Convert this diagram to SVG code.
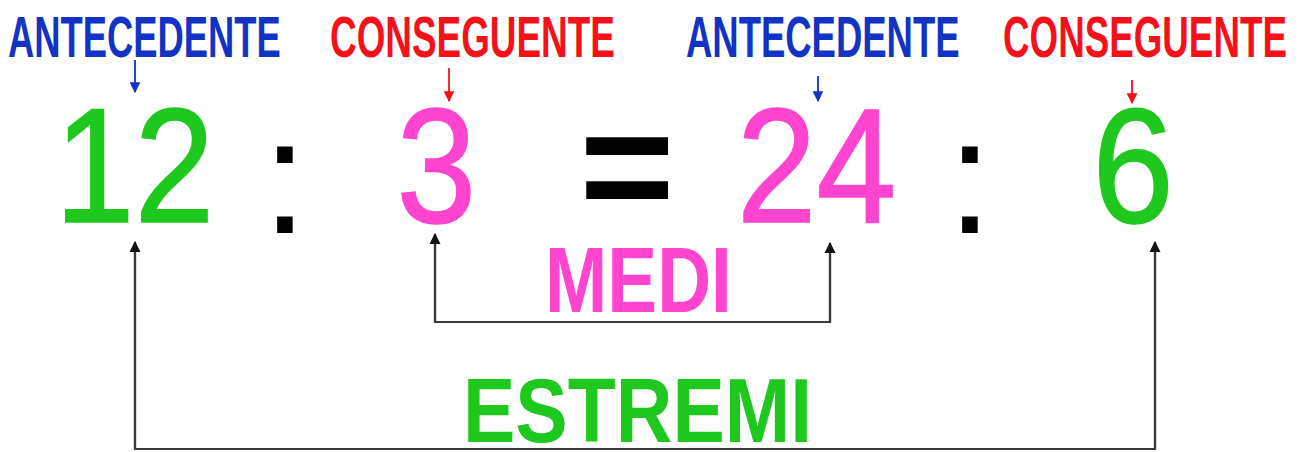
<svg xmlns="http://www.w3.org/2000/svg" width="1314" height="452" viewBox="0 0 1314 452">
<style>
.lbl{font-family:"Liberation Sans",Arial,sans-serif;font-weight:bold;font-size:58px;}
.blue{fill:#1233c4;}
.red{fill:#f5101a;}
.num{font-family:"Liberation Sans",Arial,sans-serif;font-size:163px;text-anchor:middle;}
.green{fill:#1ec81e;}
.pink{fill:#ff45cf;}
.blk{fill:#000;}
.thick.green{stroke:#1ec81e;stroke-width:1.6;}
.thick.pink{stroke:#ff45cf;stroke-width:1.6;}
.big{font-family:"Liberation Sans",Arial,sans-serif;font-weight:bold;}
.conn{fill:none;stroke:#3a3a3a;stroke-width:2.2;}
.sb{stroke:#1233c4;stroke-width:1.8;fill:none;}
.sr{stroke:#f5101a;stroke-width:1.8;fill:none;}
</style>
<defs>
<marker id="ah" viewBox="0 0 10 10" refX="9" refY="5" markerWidth="5" markerHeight="5.5" orient="auto" markerUnits="strokeWidth">
<path d="M0,0 L10,5 L0,10 z" fill="#111"/>
</marker>
<marker id="ahb" viewBox="0 0 10 10" refX="9" refY="5" markerWidth="6" markerHeight="7" orient="auto" markerUnits="strokeWidth">
<path d="M0,0 L10,5 L0,10 z" fill="#1233c4"/>
</marker>
<marker id="ahr" viewBox="0 0 10 10" refX="9" refY="5" markerWidth="6" markerHeight="7" orient="auto" markerUnits="strokeWidth">
<path d="M0,0 L10,5 L0,10 z" fill="#f5101a"/>
</marker>
</defs>
<rect width="1314" height="452" fill="#fff"/>

<g id="label-antecedente-1"><text class="lbl blue" transform="translate(8,57) scale(0.627,1)">ANTECEDENTE</text></g>
<g id="label-conseguente-1"><text class="lbl red" transform="translate(330,57) scale(0.636,1)">CONSEGUENTE</text></g>
<g id="label-antecedente-2"><text class="lbl blue" transform="translate(686,57) scale(0.629,1)">ANTECEDENTE</text></g>
<g id="label-conseguente-2"><text class="lbl red" transform="translate(1003,57) scale(0.634,1)">CONSEGUENTE</text></g>

<g id="n12"><text class="num green thick" transform="translate(134.5,222) scale(0.88,1)">12</text></g>
<g id="colon1"><text class="num blk" x="285" y="233">:</text></g>
<g id="n3"><text class="num pink thick" transform="translate(436.5,222) scale(0.88,1)">3</text></g>
<g id="eq"><text class="num blk" x="627" y="222" font-weight="bold">=</text></g>
<g id="n24"><text class="num pink thick" transform="translate(816.5,222) scale(0.88,1)">24</text></g>
<g id="colon2"><text class="num blk" x="970" y="233">:</text></g>
<g id="n6"><text class="num green thick" transform="translate(1133,222) scale(0.9,1)">6</text></g>

<g id="medi"><text class="big pink" font-size="93" transform="translate(545,312) scale(0.804,1)">MEDI</text></g>
<g id="estremi"><text class="big green" font-size="91" transform="translate(463,442) scale(0.863,1)">ESTREMI</text></g>

<g id="connectors">
<line class="sb" x1="135" y1="60" x2="135" y2="92" marker-end="url(#ahb)"/>
<line class="sr" x1="449" y1="68" x2="449" y2="101" marker-end="url(#ahr)"/>
<line class="sb" x1="818" y1="76" x2="818" y2="101" marker-end="url(#ahb)"/>
<line class="sr" x1="1132" y1="80" x2="1132" y2="103" marker-end="url(#ahr)"/>
<polyline class="conn" points="435,240 435,322 830,322 830,249"/>
<line class="conn" x1="435" y1="322" x2="435" y2="234" marker-end="url(#ah)"/>
<line class="conn" x1="830" y1="322" x2="830" y2="243" marker-end="url(#ah)"/>
<polyline class="conn" points="135,248 135,449 1155,449 1155,248"/>
<line class="conn" x1="135" y1="449" x2="135" y2="242" marker-end="url(#ah)"/>
<line class="conn" x1="1155" y1="449" x2="1155" y2="242" marker-end="url(#ah)"/>
</g>
</svg>
